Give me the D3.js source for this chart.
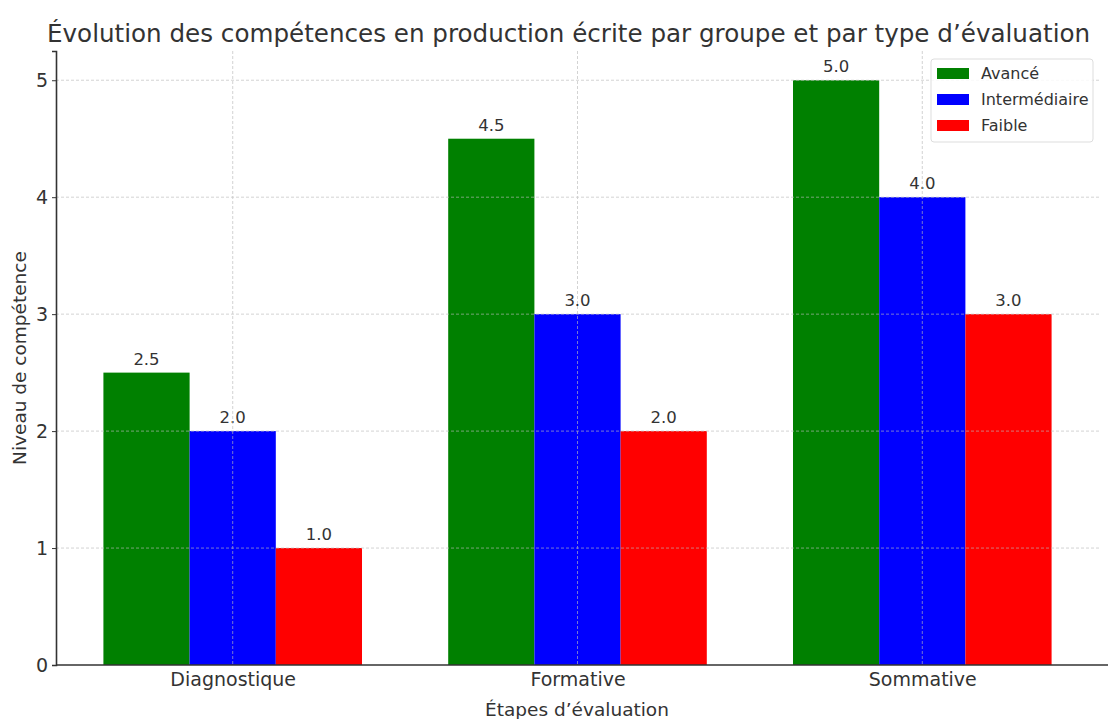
<html>
<head>
<style>
  body { margin: 0; background: #fff; }
  svg text { font-family: "DejaVu Sans", sans-serif; fill: #333; }
</style>
</head>
<body>
<svg id="chart" width="1108" height="719"></svg>
<script src="https://cdn.jsdelivr.net/npm/d3@7"></script>
<script>
// data
const stages = ["Diagnostique", "Formative", "Sommative"];
const groups = ["Avancé", "Intermédiaire", "Faible"];
const avance = [2.5, 4.5, 5.0];
const intermediaire = [2.0, 3.0, 4.0];
const faible = [1.0, 2.0, 3.0];
const yTicks = [0, 1, 2, 3, 4, 5];
const colors = ["green", "blue", "red"];

const series = [avance, intermediaire, faible];
const barW = 0.25;

let svg = d3.select("#chart");

let x = d3.scaleLinear()
    .domain([-0.5125, 2.5125])
    .range([56, 1099]);

let y = d3.scaleLinear()
    .domain([0, 5.25])
    .range([665, 51]);

let color = d3.scaleOrdinal().domain(groups).range(colors);

// bars
groups.forEach((g, j) => {
    svg.append("g")
        .selectAll("rect")
        .data(series[j])
        .enter()
        .append("rect")
        .attr("x", (d, i) => x(i + (j - 1) * barW - barW / 2))
        .attr("width", x(barW) - x(0))
        .attr("y", d => y(d))
        .attr("height", d => y(0) - y(d))
        .attr("fill", color(g));

    svg.append("g")
        .selectAll("text")
        .data(series[j])
        .enter()
        .append("text")
        .attr("x", (d, i) => x(i + (j - 1) * barW))
        .attr("y", d => y(d) - 8)
        .attr("text-anchor", "middle")
        .style("font-size", "16.5px")
        .text(d => d.toFixed(1));
});

// grid on top, like the original
let grid = svg.append("g")
    .attr("stroke", "#bbb")
    .attr("stroke-width", 0.8)
    .attr("stroke-dasharray", "3,2")
    .attr("opacity", 0.8);

grid.selectAll(".hy")
    .data(yTicks.filter(d => d > 0))
    .enter()
    .append("line")
    .attr("x1", 56).attr("x2", 1099)
    .attr("y1", d => y(d)).attr("y2", d => y(d));

grid.selectAll(".vx")
    .data(stages)
    .enter()
    .append("line")
    .attr("x1", (d, i) => x(i)).attr("x2", (d, i) => x(i))
    .attr("y1", 51).attr("y2", 665);

// axes
let yAxis = d3.axisLeft(y)
    .tickValues(yTicks)
    .tickFormat(d3.format("d"))
    .tickSize(4)
    .tickPadding(4);
let gy = svg.append("g")
    .attr("transform", "translate(56,0)")
    .call(yAxis);
gy.select(".domain").attr("stroke", "#333").attr("stroke-width", 1.6);
gy.selectAll(".tick line").attr("stroke", "#333");
gy.selectAll(".tick text").style("font-size", "19px").attr("fill", "#333");

let xAxis = d3.axisBottom(x)
    .tickValues(d3.range(stages.length))
    .tickFormat(i => stages[i])
    .tickSize(0)
    .tickPadding(8);
let gx = svg.append("g")
    .attr("transform", "translate(0,665)")
    .call(xAxis);
gx.select(".domain").attr("stroke", "#333").attr("stroke-width", 1.6).attr("d", "M56,0H1108");
gx.selectAll(".tick text").style("font-size", "19px").attr("fill", "#333");

// labels
svg.append("text")
    .attr("x", 47)
    .attr("y", 42)
    .style("font-size", "24.6px")
    .text("Évolution des compétences en production écrite par groupe et par type d’évaluation");

svg.append("text")
    .attr("transform", "translate(26,358) rotate(-90)")
    .attr("text-anchor", "middle")
    .style("font-size", "18.5px")
    .text("Niveau de compétence");

svg.append("text")
    .attr("x", 577)
    .attr("y", 716)
    .attr("text-anchor", "middle")
    .style("font-size", "18.5px")
    .text("Étapes d’évaluation");

// legend
let legend = svg.append("g").attr("transform", "translate(931,59)");
legend.append("rect")
    .attr("width", 162).attr("height", 83)
    .attr("rx", 3)
    .attr("fill", "#fff").attr("fill-opacity", 0.85)
    .attr("stroke", "#ddd");
let item = legend.selectAll(".item")
    .data(groups)
    .enter()
    .append("g")
    .attr("transform", (d, i) => `translate(6,${9 + i * 26})`);
item.append("rect")
    .attr("width", 32).attr("height", 11)
    .attr("fill", d => color(d));
item.append("text")
    .attr("x", 44).attr("y", 11)
    .style("font-size", "16px")
    .text(d => d);
</script>
</body>
</html>
